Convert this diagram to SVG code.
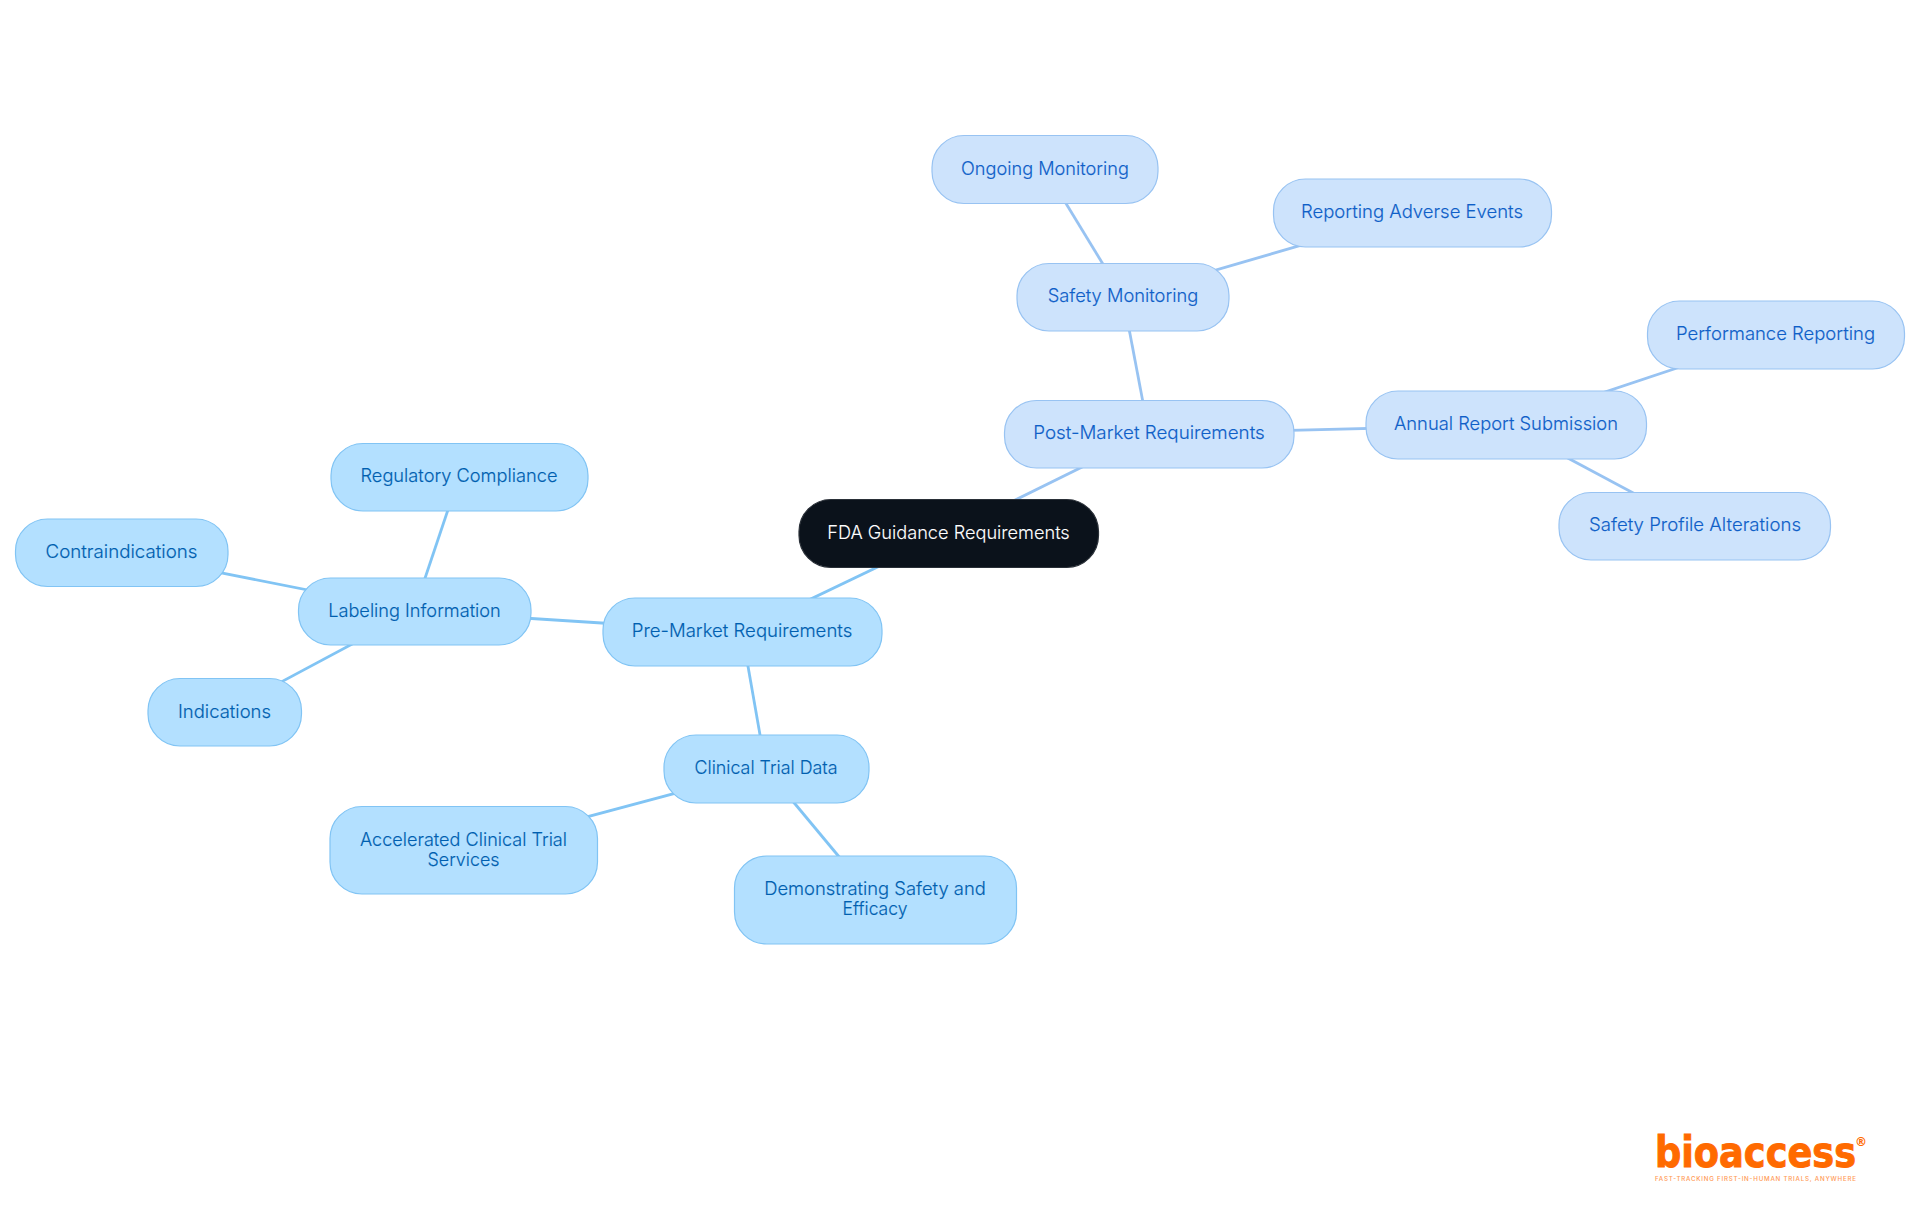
<svg xmlns="http://www.w3.org/2000/svg" width="1920" height="1215" viewBox="0 0 1920 1215">
<style>
text{font-family:"Inter","Noto Sans","Liberation Sans",sans-serif;font-size:18.2px;text-anchor:middle;font-weight:350}
.a rect{fill:#b3e0ff;stroke:#81c4f4;stroke-width:1.2}
.a text{fill:#005fb0;stroke:#005fb0;stroke-width:.15}
.b rect{fill:#cde3fc;stroke:#98c3f2;stroke-width:1.2}
.b text{fill:#0f5fc8;stroke:#0f5fc8;stroke-width:.15}
.r rect{fill:#0b121b;stroke:#2a3038;stroke-width:1.2}
.r text{fill:#fff;stroke:#fff;stroke-width:.1}
.ea{stroke:#81c4f4;stroke-width:2.8;fill:none}
.eb{stroke:#98c3f2;stroke-width:2.8;fill:none}
.lg{fill:#ff6a00}
</style>
<rect width="1920" height="1215" fill="#fff"/>
<g id="connectors">
<line class="ea" x1="948.5" y1="533" x2="742" y2="632"/>
<line class="eb" x1="948.5" y1="533" x2="1149" y2="434"/>
<line class="ea" x1="742" y1="632" x2="414" y2="611"/>
<line class="ea" x1="742" y1="632" x2="766" y2="769"/>
<line class="ea" x1="414" y1="611" x2="459" y2="477"/>
<line class="ea" x1="414" y1="611" x2="121" y2="553"/>
<line class="ea" x1="414" y1="611" x2="225" y2="712"/>
<line class="ea" x1="766" y1="769" x2="463" y2="850"/>
<line class="ea" x1="766" y1="769" x2="875" y2="900"/>
<line class="eb" x1="1149" y1="434" x2="1123" y2="297"/>
<line class="eb" x1="1149" y1="434" x2="1506" y2="425"/>
<line class="eb" x1="1123" y1="297" x2="1045" y2="169"/>
<line class="eb" x1="1123" y1="297" x2="1412" y2="213"/>
<line class="eb" x1="1506" y1="425" x2="1776" y2="335"/>
<line class="eb" x1="1506" y1="425" x2="1695" y2="526"/>
</g>
<g id="root" class="r"><rect x="799" y="499.5" width="299.5" height="68" rx="32"/><text x="948.5" y="538.5" textLength="242.5" lengthAdjust="spacingAndGlyphs">FDA Guidance Requirements</text></g>
<g id="pre-market" class="a"><rect x="603" y="598" width="279" height="68" rx="32"/><text x="742" y="637" textLength="220.5" lengthAdjust="spacingAndGlyphs">Pre-Market Requirements</text></g>
<g id="post-market" class="b"><rect x="1004.5" y="400.5" width="289.5" height="67.5" rx="32"/><text x="1149" y="439" textLength="231.5" lengthAdjust="spacingAndGlyphs">Post-Market Requirements</text></g>
<g id="labeling" class="a"><rect x="298.5" y="578" width="232.5" height="67" rx="32"/><text x="414.5" y="617" textLength="172.6" lengthAdjust="spacingAndGlyphs">Labeling Information</text></g>
<g id="clinical" class="a"><rect x="664" y="735" width="205" height="68" rx="32"/><text x="766" y="773.5" textLength="143" lengthAdjust="spacingAndGlyphs">Clinical Trial Data</text></g>
<g id="regulatory" class="a"><rect x="331" y="443.5" width="257" height="67.5" rx="32"/><text x="459" y="482" textLength="197" lengthAdjust="spacingAndGlyphs">Regulatory Compliance</text></g>
<g id="contraindications" class="a"><rect x="15.5" y="519" width="212.5" height="67.5" rx="32"/><text x="121.5" y="558" textLength="152" lengthAdjust="spacingAndGlyphs">Contraindications</text></g>
<g id="indications" class="a"><rect x="148" y="678.5" width="153.5" height="67.5" rx="32"/><text x="224.5" y="718" textLength="93" lengthAdjust="spacingAndGlyphs">Indications</text></g>
<g id="accelerated" class="a"><rect x="330" y="806.5" width="267.5" height="87.5" rx="32"/><text x="463.5" y="846" textLength="207" lengthAdjust="spacingAndGlyphs">Accelerated Clinical Trial</text><text x="463.5" y="866" textLength="72" lengthAdjust="spacingAndGlyphs">Services</text></g>
<g id="demonstrating" class="a"><rect x="734.5" y="856" width="282" height="88" rx="32"/><text x="875" y="894.5" textLength="221.6" lengthAdjust="spacingAndGlyphs">Demonstrating Safety and</text><text x="875" y="914.5" textLength="65" lengthAdjust="spacingAndGlyphs">Efficacy</text></g>
<g id="safety-monitoring" class="b"><rect x="1017" y="263.5" width="212" height="67.5" rx="32"/><text x="1123" y="302" textLength="150.6" lengthAdjust="spacingAndGlyphs">Safety Monitoring</text></g>
<g id="annual-report" class="b"><rect x="1366" y="391" width="280.5" height="68" rx="32"/><text x="1506" y="429.5" textLength="224" lengthAdjust="spacingAndGlyphs">Annual Report Submission</text></g>
<g id="ongoing" class="b"><rect x="932" y="135.5" width="226" height="68" rx="32"/><text x="1045" y="175" textLength="167.8" lengthAdjust="spacingAndGlyphs">Ongoing Monitoring</text></g>
<g id="adverse" class="b"><rect x="1273.5" y="179" width="278" height="68" rx="32"/><text x="1412" y="217.5" textLength="222" lengthAdjust="spacingAndGlyphs">Reporting Adverse Events</text></g>
<g id="performance" class="b"><rect x="1647.5" y="301" width="257" height="68" rx="32"/><text x="1775.5" y="339.5" textLength="199" lengthAdjust="spacingAndGlyphs">Performance Reporting</text></g>
<g id="safety-profile" class="b"><rect x="1559" y="492.5" width="271.5" height="67.5" rx="32"/><text x="1695" y="531" textLength="212" lengthAdjust="spacingAndGlyphs">Safety Profile Alterations</text></g>
<g id="logo">
<text class="lg" x="1655" y="1167" style="font-family:'DejaVu Sans',sans-serif;font-size:42px;font-weight:700;text-anchor:start;stroke:#ff6a00;stroke-width:1" textLength="201" lengthAdjust="spacingAndGlyphs">bioaccess</text>
<text class="lg" x="1861" y="1146" style="font-family:'DejaVu Sans',sans-serif;font-size:12px;font-weight:700">®</text>
<text x="1655" y="1181" style="font-size:6.2px;text-anchor:start;fill:#ff9a55;font-weight:500" textLength="201">FAST-TRACKING FIRST-IN-HUMAN TRIALS, ANYWHERE</text>
</g>
</svg>
